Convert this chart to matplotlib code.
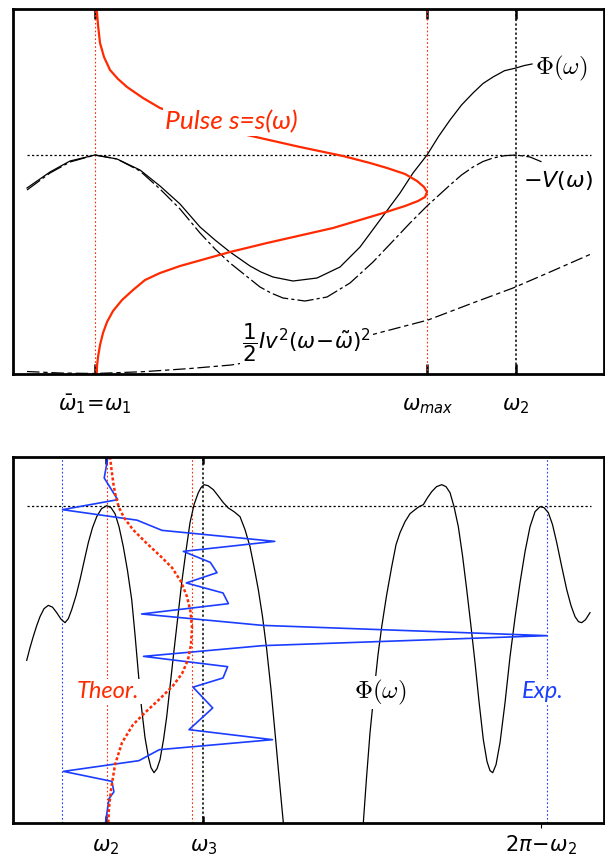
import matplotlib.pyplot as plt

plt.rcParams['mathtext.fontset'] = 'dejavusans'

RED = '#ff2a00'
BLUE = '#1a3dff'
label_font = ['Lato', 'DejaVu Sans']

# --------------------
# Top panel data (arbitrary units)
phi_x = [14, 37, 57, 82, 104, 127, 147, 167, 187, 202, 217, 237, 248, 260, 280, 304, 327, 347,
         367, 387, 400, 414, 425.5, 437, 448.5, 460, 470, 480, 491.5, 503, 511, 519]
phi_y = [186, 202, 213, 219, 215, 204, 188, 170, 147, 134, 122, 108, 102, 97, 93, 96, 107, 127,
         154, 181, 201, 219, 237.5, 254, 269, 281, 290.5, 297, 303.3, 306, 308.4, 310]

negv_x = [14, 37, 57, 82, 104, 127, 147, 167, 187, 202, 217, 232, 247, 258, 270, 292, 314, 337,
          360, 380, 397, 414, 437, 448.5, 460, 470, 480, 491.5, 503, 517, 529]
negv_y = [184, 201, 212, 219, 215, 203, 185, 165, 141, 125, 111, 99, 87, 81, 76, 73, 77, 91,
          112, 133, 151, 168, 189, 199, 207, 212.5, 216, 218.3, 219, 217, 212]

kin_x = [14, 47, 82, 130, 177, 218, 267, 317, 369, 415, 457, 500, 537, 578]
kin_y = [2.5, 1, 0.5, 2.3, 5.5, 9, 17, 28, 42, 54, 70, 86, 102, 120]

pulse_x = [83.7, 85, 87, 91, 97, 105, 114, 130, 147, 187, 234, 287, 330, 357, 374, 392, 404,
           411, 414, 412, 405, 392, 367, 320, 254, 217, 192, 167, 147, 132, 120, 109, 100,
           94, 90, 87, 85, 84, 83.7]
pulse_y = [364.7, 349, 331, 317, 304, 295, 287, 276, 266, 252, 239, 227, 218, 211, 206, 200,
           193, 187, 182, 177, 173, 168, 160, 146, 131, 122, 115, 108, 101, 94, 84, 74, 63,
           52, 41, 29, 17, 8, 0]

top_level = 219
level_span = [14, 578]
omega_1, omega_max, omega_2 = 82, 414.3, 502.7
top_ticks = [omega_1, omega_max, omega_2]
top_tick_labels = [r'$\bar{\omega}_1\!=\!\omega_1$', r'$\omega_{max}$', r'$\omega_2$']

# --------------------
# Bottom panel data
phi2_left_x = [13.7, 17, 20.3, 23.7, 27, 31, 35.3, 39.5, 43.7, 48, 52, 55.3, 58.7, 63, 67, 71,
               75.3, 79.5, 83.7, 88.5, 93.7, 98, 102, 106, 110.3, 114.5, 118.7, 122, 125.3,
               128.5, 132, 135.5, 138, 141, 144, 147, 150.5, 153.7, 157, 160.3, 164.5, 168.7,
               173, 177, 181, 185.3, 188, 191, 195, 200.3, 205, 210.3, 215.3, 221, 227, 232,
               237, 241, 245.3, 249.5, 253.7, 258, 262, 266, 270.3]
phi2_left_y = [162.3, 175, 186.3, 197, 206, 214, 217.3, 215.5, 210, 203.5, 200, 204, 213, 227,
               243, 261, 280, 295, 306, 314, 317, 315, 309, 296, 276, 252, 223, 188, 150, 115,
               85, 65, 55, 50, 54, 63, 83, 106, 136, 166, 203, 240, 272, 300, 318, 330, 335,
               338, 337, 333, 327, 320, 314.7, 311, 306, 293, 276, 256, 233, 206, 173, 133,
               90, 46, 0]
phi2_right_x = [350.3, 353.5, 357, 362, 365, 368.7, 373.5, 378.7, 383, 387, 392, 397, 402, 406,
                410.3, 414.5, 418.7, 423.5, 428.7, 433, 437, 441, 445.3, 449.5, 453.7, 458,
                462, 466, 470.3, 474, 477, 479.7, 483, 487, 492, 497, 502, 507, 512, 517, 522,
                527, 531, 535.3, 539.5, 543.7, 548.5, 553.7, 558, 562, 565.5, 568.7, 572.5, 577]
phi2_right_y = [0, 45, 90, 140, 168, 196, 227, 256, 278, 290, 301, 309, 313, 316, 318, 325, 331,
                336, 338, 336, 330, 316, 296, 267, 233, 196, 160, 121, 83, 61, 52, 50, 58, 80,
                120, 166, 205, 240, 271, 296, 311, 316, 315, 310, 298, 280, 257, 233, 217, 206,
                201, 200, 203, 210]

theor_x = [97, 98.5, 100.5, 103, 106, 111, 120, 133, 147, 159, 168, 174, 177.5, 179, 178, 175,
           169, 160, 147, 133, 120, 109, 102, 98, 96, 95.3]
theor_y = [366, 353, 338, 325, 315, 305, 293, 280, 267, 255, 241, 226, 211, 195, 178, 163, 149,
           137, 124, 111, 98, 80, 58, 33, 15, 0]

exp_x = [95, 91.2, 104.7, 49.5, 124, 149, 261.7, 170.3, 197.3, 204, 173.3, 210, 215.4, 128.6,
         249.3, 534, 249.3, 130.5, 214.6, 210, 180, 199.7, 176, 259.5, 146.3, 125.9, 50.5, 98.9,
         100.9, 96, 92.5]
exp_y = [366, 344.7, 323, 313, 302.5, 292.3, 281.3, 271.3, 260.3, 250, 239.7, 229.7, 219, 208.7,
         197.3, 187, 177, 166.3, 156, 144.7, 135.5, 114.7, 93, 83, 73, 62, 51.3, 41.3, 30.8,
         24, 0]

bottom_level = 317
omega_3 = 190.3
omega_2b = 92.5
mirror_2 = 527.7
theor_lines = [93.7, 178.7]
exp_lines = [49.3, 534.3]
bottom_tick_labels = [r'$\omega_2$', r'$\omega_3$', r'$2\pi\!-\!\omega_2$']

# --------------------
fig = plt.figure(figsize=(6.05, 8.6), dpi=100)
ax1 = fig.add_axes([0.0215, 0.5651, 0.9769, 0.4241])
ax2 = fig.add_axes([0.0215, 0.0434, 0.9769, 0.4256])

for ax in (ax1, ax2):
    ax.set_xlim(0, 591)
    for s in ax.spines.values():
        s.set_linewidth(2)
    ax.set_yticks([])
    ax.tick_params(axis='x', direction='in', top=True, bottom=True, labelbottom=False,
                   colors='black')
ax1.set_ylim(0, 364.7)
ax2.set_ylim(0, 366)

# --------------------
# top panel
ax1.set_xticks(top_ticks)
ax1.tick_params(axis='x', length=7.5, width=1.8)
ax1.axvline(omega_1, color=RED, lw=0.8, ls=(0, (1.5, 2)))
ax1.axvline(omega_max, color=RED, lw=0.8, ls=(0, (1.5, 2)))
ax1.axvline(omega_2, color='black', lw=1.1, ls=(0, (1.5, 1.5)))
ax1.plot(level_span, [top_level, top_level], color='black', lw=0.9, ls=(0, (1.8, 1.8)))

ax1.plot(kin_x, kin_y, color='black', lw=0.9, dashes=(10, 3, 3.5, 3))
ax1.plot(negv_x, negv_y, color='black', lw=0.9, dashes=(13, 2.5, 2.5, 2.5))
ax1.plot(phi_x, phi_y, color='black', lw=0.9)
ax1.plot(pulse_x, pulse_y, color=RED, lw=1.6)

box = dict(facecolor='white', edgecolor='none', pad=1.5)
ax1.text(152, 252, 'Pulse s=s(ω)', color=RED, fontsize=19, style='italic',
         family=label_font, va='center', ha='left', bbox=box)
ax1.text(522, 306, r'$\Phi(\omega)$', fontsize=18, math_fontfamily='cm', va='center')
ax1.text(510, 194, r'$-V(\omega)$', fontsize=16, va='center')
ax1.text(229, 31, r'$\dfrac{1}{2}Iv^2(\omega\!-\!\tilde{\omega})^2$', fontsize=15.5,
         va='center', bbox=box)
for x, lab in zip(top_ticks, top_tick_labels):
    ax1.text(x, -0.1, lab, fontsize=15, ha='center', va='baseline',
             transform=ax1.get_xaxis_transform())

# --------------------
# bottom panel
ax2.set_xticks([omega_2b, omega_3])
ax2.tick_params(axis='x', length=5, width=1.8)
ax2.set_xticks([mirror_2], minor=True)
ax2.tick_params(axis='x', which='minor', length=3.5, width=0.8, top=False)
for x in exp_lines:
    ax2.axvline(x, color=BLUE, lw=0.8, ls=(0, (1.5, 2)))
for x in theor_lines:
    ax2.axvline(x, color=RED, lw=0.8, ls=(0, (1.5, 2)))
ax2.axvline(omega_3, color='black', lw=1.1, ls=(0, (1.5, 1.5)))
ax2.plot(level_span, [bottom_level, bottom_level], color='black', lw=0.9, ls=(0, (1.8, 1.8)))

ax2.plot(phi2_left_x, phi2_left_y, color='black', lw=0.9)
ax2.plot(phi2_right_x, phi2_right_y, color='black', lw=0.9)
ax2.plot(exp_x, exp_y, color=BLUE, lw=1.2)
ax2.plot(theor_x, theor_y, color=RED, lw=1.8, ls=(0, (1.2, 0.9)))

ax2.text(64, 131, 'Theor.', color=RED, fontsize=17, style='italic', family=label_font,
         va='center', bbox=box)
ax2.text(341, 130, r'$\Phi(\omega)$', fontsize=18, math_fontfamily='cm', va='center', bbox=box)
ax2.text(509, 131, 'Exp.', color=BLUE, fontsize=17, style='italic', family=label_font,
         va='center', bbox=box)
for x, lab in zip([omega_2b, omega_3, mirror_2], bottom_tick_labels):
    ax2.text(x, -0.078, lab, fontsize=15, ha='center', va='baseline',
             transform=ax2.get_xaxis_transform())

fig.savefig('out.png', dpi=100)
